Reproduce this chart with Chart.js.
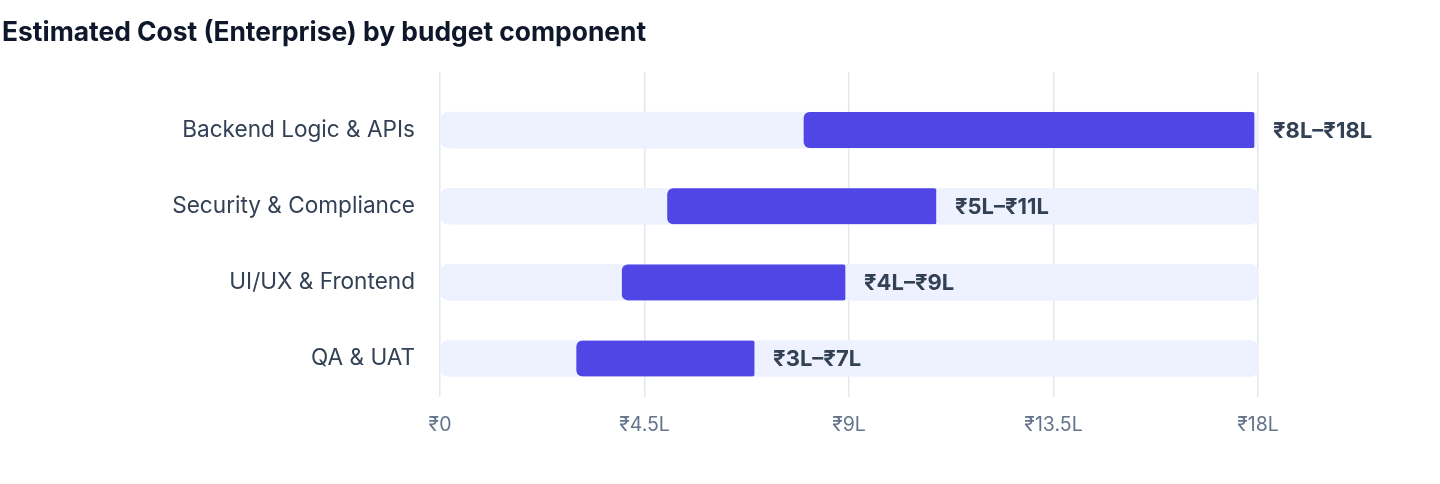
<!DOCTYPE html>
<html>
<head>
<meta charset="utf-8">
<style>
  html, body { margin: 0; padding: 0; background: #fff; }
  #wrap { width: 1440px; height: 484px; position: relative; }
</style>
<script src="https://cdn.jsdelivr.net/npm/chart.js@4/dist/chart.umd.min.js"></script>
</head>
<body>
<div id="wrap"><canvas id="grafico"></canvas></div>
<script>
// --- Datos ---
const componentes = ["Backend Logic & APIs", "Security & Compliance", "UI/UX & Frontend", "QA & UAT"];
const costoMin = [8, 5, 4, 3];     // lakhs
const costoMax = [18, 11, 9, 7];   // lakhs
const escalaMax = 18;
const ticksX = [0, 4.5, 9, 13.5, 18];

const fuente = 'Inter, "Liberation Sans", Arial, sans-serif';

// Etiqueta de rango al final de cada barra
const etiquetas = {
  id: 'etiquetasRango',
  afterDatasetsDraw(chart) {
    const ctx = chart.ctx;
    const meta = chart.getDatasetMeta(0);
    ctx.save();
    ctx.font = 'bold 22px ' + fuente;
    ctx.fillStyle = '#334155';
    ctx.textBaseline = 'middle';
    ctx.textAlign = 'left';
    meta.data.forEach((bar, i) => {
      ctx.fillText(`₹${costoMin[i]}L–₹${costoMax[i]}L`, bar.x + 15, bar.y + 1);
    });
    ctx.restore();
  }
};

new Chart(document.getElementById('grafico'), {
  type: 'bar',
  data: {
    datasets: [
      {
        label: 'Rango',
        data: componentes.map((c, i) => ({ y: i, x: [costoMin[i], costoMax[i]] })),
        backgroundColor: '#4F46E5',
        borderColor: 'rgba(0,0,0,0)',
        borderWidth: { right: 4, left: 0, top: 0, bottom: 0 },
        borderSkipped: false,
        borderRadius: 6,
        barThickness: 36,
        grouped: false
      },
      {
        label: 'Fondo',
        data: componentes.map((c, i) => ({ y: i, x: [0, escalaMax] })),
        backgroundColor: '#EEF2FF',
        borderSkipped: false,
        borderRadius: 8,
        barThickness: 36,
        grouped: false
      }
    ]
  },
  options: {
    indexAxis: 'y',
    responsive: true,
    maintainAspectRatio: false,
    animation: false,
    layout: { padding: { left: 2, right: 182, top: 0, bottom: 30 } },
    plugins: {
      legend: { display: false },
      tooltip: { enabled: false },
      title: {
        display: true,
        text: 'Estimated Cost (Enterprise) by budget component',
        align: 'start',
        color: '#0F172A',
        font: { family: fuente, size: 26.4, weight: 'bold', lineHeight: 1.2 },
        padding: { top: 17, bottom: 23.3 }
      }
    },
    scales: {
      x: {
        type: 'linear',
        min: 0,
        max: escalaMax,
        afterBuildTicks: s => { s.ticks = ticksX.map(v => ({ value: v })); },
        grid: { color: '#E2E8F0', lineWidth: 1.5, drawTicks: false },
        border: { display: false },
        ticks: {
          color: '#64748B',
          padding: 17,
          font: { family: fuente, size: 19.5 },
          callback: v => v === 0 ? '₹0' : `₹${v}L`
        }
      },
      y: {
        type: 'linear',
        reverse: true,
        offset: false,
        min: -0.763,
        max: 3.5,
        afterBuildTicks: s => { s.ticks = componentes.map((c, i) => ({ value: i })); },
        afterFit: s => { s.width = 438; },
        grid: { display: false, drawTicks: false, offset: false },
        border: { display: false },
        ticks: {
          color: '#334155',
          padding: 25,
          font: { family: fuente, size: 22.6 },
          callback: v => componentes[v]
        }
      }
    }
  },
  plugins: [etiquetas]
});
</script>
</body>
</html>
